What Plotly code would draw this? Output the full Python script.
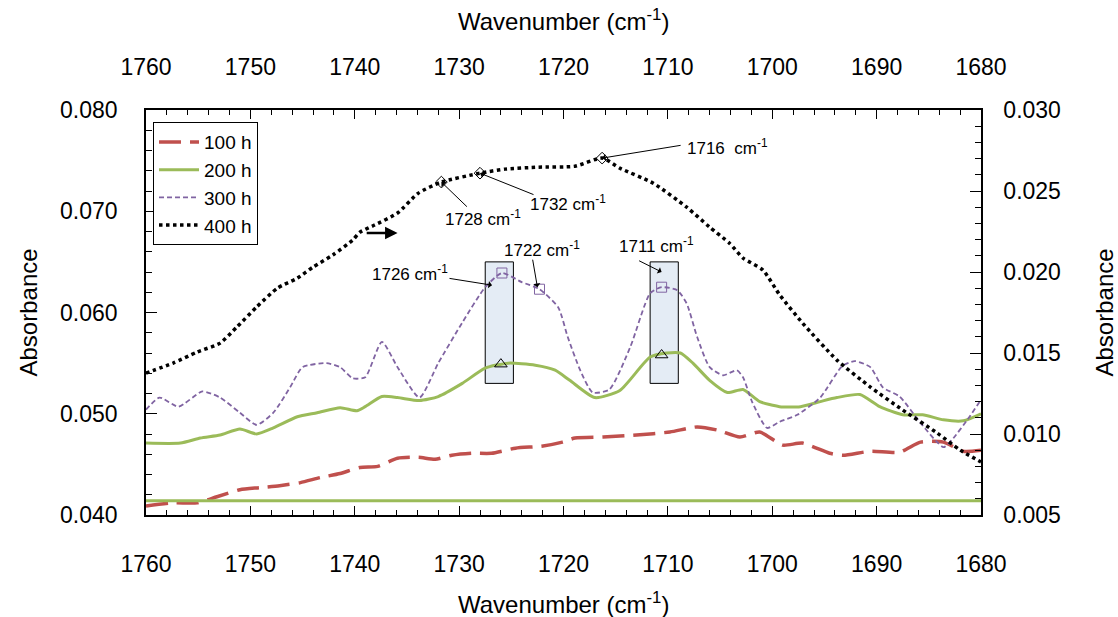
import plotly.graph_objects as go

# ---------------- data ----------------
wn_100 = [1760, 1757.4, 1755.1, 1753.2, 1751.0, 1749.1, 1747.2, 1745.2, 1743.3, 1741.4, 1739.5,
          1737.8, 1735.9, 1733.9, 1732.3, 1730.7, 1728.8, 1726.9, 1724.6, 1722.1, 1720.1, 1718.9,
          1716.2, 1713.0, 1709.8, 1707.2, 1705.3, 1703.1, 1701.2, 1699.0, 1697.1, 1694.5, 1693.2,
          1690.6, 1687.8, 1685.8, 1683.6, 1681.7, 1680]
abs_100 = [0.0409, 0.0412, 0.0412, 0.0418, 0.0425, 0.0427, 0.0429, 0.0432, 0.0437, 0.0441, 0.0447,
           0.0448, 0.0456, 0.0457, 0.0455, 0.0459, 0.0461, 0.0461, 0.0466, 0.0468, 0.0472, 0.0476,
           0.0477, 0.0479, 0.0482, 0.0487, 0.0484, 0.0477, 0.0482, 0.0469, 0.0471, 0.0461, 0.0459,
           0.0463, 0.0462, 0.0472, 0.0472, 0.0463, 0.0464]

wn_200 = [1760, 1756.7, 1754.8, 1752.9, 1751.0, 1749.4, 1747.8, 1745.5, 1743.6, 1741.4, 1739.8,
          1739.0, 1737.4, 1735.9, 1733.8, 1732.0, 1729.7, 1727.5, 1725.3, 1722.7, 1720.8, 1719.4,
          1717.0, 1714.6, 1711.7, 1710.1, 1708.8, 1707.6, 1706.0, 1704.3, 1702.8, 1701.2, 1699.3,
          1697.3, 1695.4, 1693.8, 1691.6, 1689.7, 1687.5, 1685.6, 1683.6, 1681.7, 1680]
abs_200 = [0.0471, 0.0471, 0.0476, 0.0479, 0.0485, 0.0480, 0.0486, 0.0497, 0.0501, 0.0506, 0.0503,
           0.0507, 0.0517, 0.0516, 0.0513, 0.0517, 0.0530, 0.0545, 0.0550, 0.0548, 0.0543, 0.0533,
           0.0516, 0.0523, 0.0556, 0.0560, 0.0560, 0.0550, 0.0533, 0.0521, 0.0524, 0.0512, 0.0507,
           0.0507, 0.0512, 0.0516, 0.0519, 0.0507, 0.0499, 0.0499, 0.0494, 0.0493, 0.0500]

wn_300 = [1760, 1758.7, 1756.9, 1754.6, 1752.9, 1751.0, 1749.4, 1747.8, 1746.2, 1745.0, 1742.7,
          1741.4, 1740.2, 1739.0, 1737.4, 1735.9, 1733.8, 1732.0, 1729.7, 1727.5, 1725.9, 1724.0,
          1722.3, 1720.5, 1719.6, 1718.4, 1717.2, 1715.6, 1713.6, 1711.7, 1710.6, 1709.1, 1708.2,
          1707.2, 1706.0, 1704.7, 1703.4, 1702.8, 1701.9, 1700.5, 1699.3, 1697.6, 1695.4, 1693.3,
          1692.1, 1690.6, 1689.4, 1687.8, 1685.8, 1683.6, 1682.8, 1681.1, 1680]
abs_300 = [0.0504, 0.0516, 0.0507, 0.0522, 0.0516, 0.0501, 0.0489, 0.0501, 0.0526, 0.0546, 0.0550,
           0.0546, 0.0535, 0.0536, 0.0571, 0.0546, 0.0516, 0.0550, 0.0590, 0.0625, 0.0639, 0.0630,
           0.0623, 0.0605, 0.0576, 0.0543, 0.0521, 0.0524, 0.0566, 0.0619, 0.0625, 0.0622, 0.0609,
           0.0576, 0.0546, 0.0538, 0.0543, 0.0536, 0.0511, 0.0486, 0.0492, 0.0499, 0.0516, 0.0547,
           0.0552, 0.0546, 0.0526, 0.0517, 0.0491, 0.0467, 0.0474, 0.0497, 0.0514]

wn_400 = [1760, 1757.4, 1755.1, 1752.9, 1751.3, 1749.4, 1747.4, 1745.5, 1744.0, 1742.1, 1740.2,
          1739.5, 1738.1, 1735.9, 1733.9, 1731.7, 1728.0, 1725.6, 1722.4, 1718.9, 1716.3, 1714.6,
          1711.4, 1708.2, 1706.0, 1704.1, 1702.8, 1700.9, 1699.3, 1697.1, 1693.8, 1690.6, 1687.5,
          1684.2, 1682.0, 1680]
abs_400 = [0.01376, 0.01438, 0.01506, 0.01561, 0.0166, 0.01784, 0.01901, 0.01962, 0.0203, 0.02105, 0.02197,
           0.02246, 0.0229, 0.02364, 0.02487, 0.02555, 0.0261, 0.02635, 0.02647, 0.02653, 0.02703, 0.02641,
           0.02548, 0.024, 0.02277, 0.02178, 0.02086, 0.02012, 0.0186, 0.01685, 0.01456, 0.0129, 0.01148,
           0.01006, 0.00901, 0.00827]

# flat baseline line
wn_base = [1760, 1680]
abs_base = [0.0414, 0.0414]

# marked peaks
wn_diamond = [1731.7, 1728.0, 1716.3]
abs_diamond = [0.02555, 0.0261, 0.02703]
wn_square = [1725.9, 1722.3, 1710.6]
abs_square = [0.0639, 0.0623, 0.0625]
wn_tri = [1726.0, 1710.6]
abs_tri = [0.0549, 0.0558]

# highlighted bands
band_x0 = [1727.5, 1711.7]
band_x1 = [1724.8, 1709.0]
band_y0 = 0.0530
band_y1 = 0.0650

x_ticks = [1760, 1750, 1740, 1730, 1720, 1710, 1700, 1690, 1680]

RED = "#c0504d"
GREEN = "#9bbb59"
PURPLE = "#8064a2"
FONT = "Liberation Sans, Arial, sans-serif"

fig = go.Figure()

fig.add_trace(go.Scatter(x=wn_100, y=abs_100, name="100 h", mode="lines",
                         line=dict(color=RED, width=3.5, dash="22px,9px", shape="spline", smoothing=0.6),
                         xaxis="x", yaxis="y"))
fig.add_trace(go.Scatter(x=wn_200, y=abs_200, name="200 h", mode="lines",
                         line=dict(color=GREEN, width=3, shape="spline", smoothing=0.6),
                         xaxis="x", yaxis="y"))
fig.add_trace(go.Scatter(x=wn_300, y=abs_300, name="300 h", mode="lines",
                         line=dict(color=PURPLE, width=1.8, dash="5px,3px", shape="spline", smoothing=0.6),
                         xaxis="x", yaxis="y"))
fig.add_trace(go.Scatter(x=wn_400, y=abs_400, name="400 h", mode="lines",
                         line=dict(color="black", width=3.5, dash="dot", shape="spline", smoothing=0.6),
                         xaxis="x", yaxis="y2"))
fig.add_trace(go.Scatter(x=wn_base, y=abs_base, mode="lines", showlegend=False,
                         line=dict(color=GREEN, width=3), xaxis="x2", yaxis="y"))

fig.add_trace(go.Scatter(x=wn_diamond, y=abs_diamond, mode="markers", showlegend=False,
                         marker=dict(symbol="diamond-open", size=9, color="black", line=dict(width=1)),
                         xaxis="x", yaxis="y2"))
fig.add_trace(go.Scatter(x=wn_square, y=abs_square, mode="markers", showlegend=False,
                         marker=dict(symbol="square-open", size=10, color=PURPLE, line=dict(width=1)),
                         xaxis="x", yaxis="y"))
fig.add_trace(go.Scatter(x=wn_tri, y=abs_tri, mode="markers", showlegend=False,
                         marker=dict(symbol="triangle-up-open", size=11, color="black", line=dict(width=1)),
                         xaxis="x", yaxis="y"))

for x0, x1 in zip(band_x0, band_x1):
    fig.add_shape(type="rect", xref="x", yref="y", x0=x0, x1=x1, y0=band_y0, y1=band_y1,
                  fillcolor="#e4ecf5", line=dict(color="black", width=1), layer="below")

ann_font = dict(family=FONT, size=17, color="black")
ann = [
    # (text, head x, head y, yref, arrow tail dx, dy, text dx, dy)
    ("1728 cm<sup>-1</sup>", 1731.7, 0.02555, "y2", 27, 26, 42, -36),
    ("1732 cm<sup>-1</sup>", 1728.0, 0.0261, "y2", 55, 22, 88, -30),
    ("1716  cm<sup>-1</sup>", 1716.3, 0.02703, "y2", 80, -13, 125, 11),
    ("1726 cm<sup>-1</sup>", 1726.85, 0.0627, "y", -44, -7, -82, 12),
    ("1722 cm<sup>-1</sup>", 1722.5, 0.0625, "y", -5, -29, 5, 38),
    ("1711 cm<sup>-1</sup>", 1710.6, 0.0640, "y", -24, -12, -5, 27),
]
for text, x, y, yref, ax, ay, tx, ty in ann:
    fig.add_annotation(text="", x=x, y=y, xref="x", yref=yref, ax=ax, ay=ay,
                       showarrow=True, arrowhead=1, arrowsize=1.2, arrowwidth=1, arrowcolor="black")
    fig.add_annotation(text=text, x=x, y=y, xref="x", yref=yref, xshift=tx, yshift=ty,
                       showarrow=False, font=ann_font, xanchor="center", yanchor="middle")

# thick arrow pointing to right axis
fig.add_annotation(text="", x=1735.9, y=0.0224, xref="x", yref="y2",
                   ax=1739.0, ay=0.0224, axref="x", ayref="y2",
                   showarrow=True, arrowhead=2, arrowsize=1, arrowwidth=2.5, arrowcolor="black")

title_font = dict(family=FONT, size=24, color="black")
tick_font = dict(family=FONT, size=23, color="black")

# axis titles as annotations
fig.add_annotation(text="Wavenumber (cm<sup>-1</sup>)", xref="paper", yref="paper", x=0.5, y=-0.217,
                   showarrow=False, font=title_font, xanchor="center", yanchor="middle")
fig.add_annotation(text="Wavenumber (cm<sup>-1</sup>)", xref="paper", yref="paper", x=0.5, y=1.222,
                   showarrow=False, font=title_font, xanchor="center", yanchor="middle")
fig.add_annotation(text="Absorbance", xref="paper", yref="paper", x=-0.1413, y=0.5, textangle=-90,
                   showarrow=False, font=title_font, xanchor="center", yanchor="middle")
fig.add_annotation(text="Absorbance", xref="paper", yref="paper", x=1.1485, y=0.5, textangle=-90,
                   showarrow=False, font=title_font, xanchor="center", yanchor="middle")

xcommon = dict(range=[1760, 1680], tickvals=x_ticks, ticks="inside", ticklen=9, tickwidth=1,
               tickcolor="black", showline=True, linecolor="black", linewidth=1.5,
               showgrid=False, zeroline=False, tickfont=tick_font,
               minor=dict(ticks="inside", ticklen=5, dtick=2, tickcolor="black", showgrid=False))

fig.update_layout(
    width=1118, height=617,
    margin=dict(l=146, r=137, t=110, b=102),
    paper_bgcolor="white", plot_bgcolor="white",
    font=dict(family=FONT, color="black"),
    xaxis=dict(**xcommon, side="bottom", ticklabelstandoff=28),
    xaxis2=dict(**xcommon, side="top", overlaying="x", anchor="y", ticklabelstandoff=24),
    yaxis=dict(range=[0.04, 0.08], dtick=0.01, tickformat=".3f", ticks="inside", ticklen=11,
               tickcolor="black", showline=True, linecolor="black", linewidth=1.5,
               showgrid=False, zeroline=False, tickfont=tick_font, ticklabelstandoff=22,
               minor=dict(ticks="inside", ticklen=6, dtick=0.002, tickcolor="black", showgrid=False)),
    yaxis2=dict(range=[0.005, 0.03], dtick=0.005, tickformat=".3f", ticks="inside", ticklen=11,
                tickcolor="black", showline=True, linecolor="black", linewidth=1.5,
                showgrid=False, zeroline=False, tickfont=tick_font, ticklabelstandoff=16,
                overlaying="y", side="right", anchor="x",
                minor=dict(ticks="inside", ticklen=6, dtick=0.001, tickcolor="black", showgrid=False)),
    legend=dict(x=0.0084, y=0.97, xanchor="left", yanchor="top", bgcolor="white",
                bordercolor="black", borderwidth=1, font=dict(family=FONT, size=19, color="black"),
                tracegroupgap=0, itemwidth=40),
    showlegend=True,
)

fig.write_html("out.html")
